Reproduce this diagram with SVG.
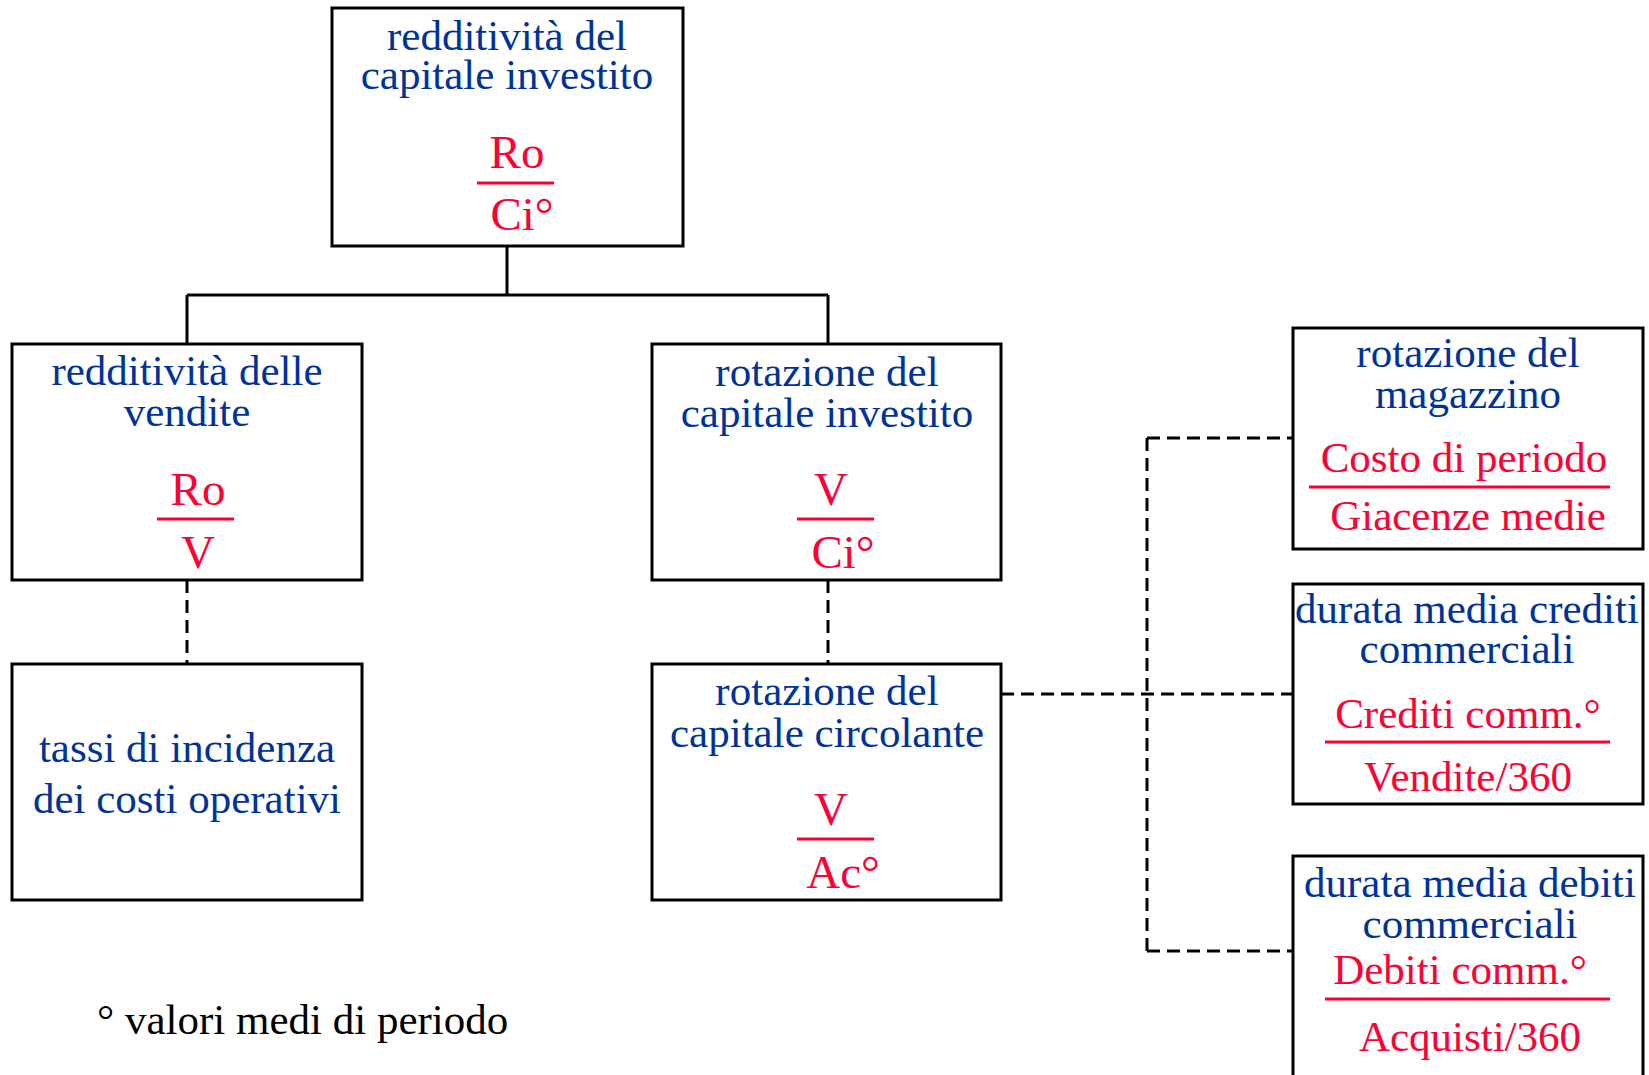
<svg xmlns="http://www.w3.org/2000/svg" width="1649" height="1075" viewBox="0 0 1649 1075">
<style>
.box{fill:#fff;stroke:#000;stroke-width:3}
.t{font-family:"Liberation Serif","Times New Roman",serif;font-size:43px;text-anchor:middle}
.f{font-size:47px}
.b{fill:#003399}
.r{fill:#ff0033}
.k{fill:#000}
.fl{stroke:#ff0033;stroke-width:3}
.sol{fill:none;stroke:#000;stroke-width:3}
.dash{fill:none;stroke:#000;stroke-width:3;stroke-dasharray:13,7}
</style>
<rect width="1649" height="1075" fill="#fff"/>
<g id="connectors">
<path class="sol" d="M507,246 V295 M187,295 H828 M187,295 V344 M828,295 V344"/>
<path class="dash" d="M187,580 V664 M828,580 V664"/>
<path class="dash" d="M1001,694 H1293 M1147,438 V951 M1147,438 H1293 M1147,951 H1293"/>
</g>
<g id="node-top">
<rect class="box" x="332" y="8" width="351" height="238"/>
<text class="t b" x="507" y="50">redditività del</text>
<text class="t b" x="507" y="89">capitale investito</text>
<text class="t f r" x="517" y="168">Ro</text>
<line class="fl" x1="477" y1="183" x2="554" y2="183"/>
<text class="t f r" x="522" y="230">Ci°</text>
</g>
<g id="node-vendite">
<rect class="box" x="12" y="344" width="350" height="236"/>
<text class="t b" x="187" y="385">redditività delle</text>
<text class="t b" x="187" y="426">vendite</text>
<text class="t f r" x="198" y="505">Ro</text>
<line class="fl" x1="157" y1="519" x2="234" y2="519"/>
<text class="t f r" x="198" y="568">V</text>
</g>
<g id="node-rotazione-ci">
<rect class="box" x="652" y="344" width="349" height="236"/>
<text class="t b" x="827" y="386">rotazione del</text>
<text class="t b" x="827" y="427">capitale investito</text>
<text class="t f r" x="831" y="505">V</text>
<line class="fl" x1="797" y1="519" x2="874" y2="519"/>
<text class="t f r" x="843" y="568">Ci°</text>
</g>
<g id="node-tassi">
<rect class="box" x="12" y="664" width="350" height="236"/>
<text class="t b" x="187" y="762">tassi di incidenza</text>
<text class="t b" x="187" y="813">dei costi operativi</text>
</g>
<g id="node-rotazione-cc">
<rect class="box" x="652" y="664" width="349" height="236"/>
<text class="t b" x="827" y="705">rotazione del</text>
<text class="t b" x="827" y="747">capitale circolante</text>
<text class="t f r" x="831" y="825">V</text>
<line class="fl" x1="797" y1="839" x2="874" y2="839"/>
<text class="t f r" x="843" y="888">Ac°</text>
</g>
<g id="node-magazzino">
<rect class="box" x="1293" y="328" width="350" height="221"/>
<text class="t b" x="1468" y="367">rotazione del</text>
<text class="t b" x="1468" y="408">magazzino</text>
<text class="t r" x="1464" y="472">Costo di periodo</text>
<line class="fl" x1="1309" y1="487" x2="1610" y2="487"/>
<text class="t r" x="1468" y="530">Giacenze medie</text>
</g>
<g id="node-crediti">
<rect class="box" x="1293" y="584" width="350" height="220"/>
<text class="t b" x="1467" y="623">durata media crediti</text>
<text class="t b" x="1467" y="663">commerciali</text>
<text class="t r" x="1468" y="728">Crediti comm.°</text>
<line class="fl" x1="1325" y1="742" x2="1610" y2="742"/>
<text class="t r" x="1468" y="791">Vendite/360</text>
</g>
<g id="node-debiti">
<rect class="box" x="1293" y="856" width="350" height="230"/>
<text class="t b" x="1470" y="897">durata media debiti</text>
<text class="t b" x="1470" y="938">commerciali</text>
<text class="t r" x="1460" y="984">Debiti comm.°</text>
<line class="fl" x1="1325" y1="999" x2="1610" y2="999"/>
<text class="t r" x="1470" y="1051">Acquisti/360</text>
</g>
<text class="t k" x="97" y="1034" style="text-anchor:start">° valori medi di periodo</text>
</svg>
